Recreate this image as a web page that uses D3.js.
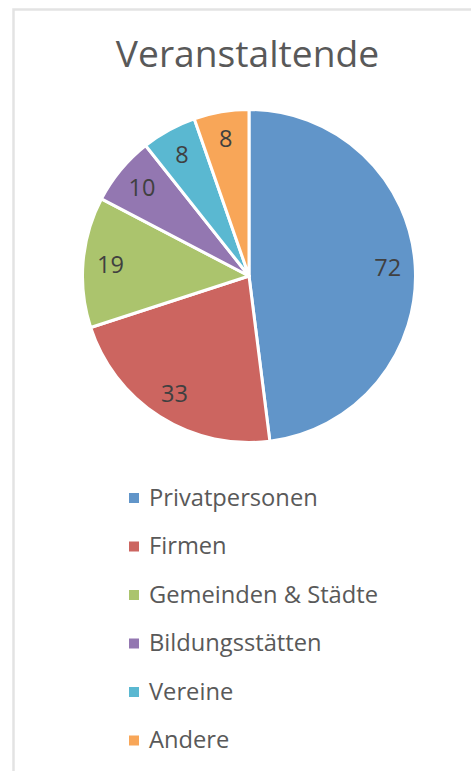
<!DOCTYPE html>
<html lang="de">
<head>
<meta charset="UTF-8">
<title>Veranstaltende</title>
<style>
  body { margin: 0; background: #fff; }
  svg { display: block; font-family: "Open Sans", sans-serif; }
</style>
</head>
<body>
<svg id="chart" width="471" height="771"></svg>
<script src="https://d3js.org/d3.v7.min.js"></script>
<script>
// chart data
const categories = ["Privatpersonen", "Firmen", "Gemeinden & Städte", "Bildungsstätten", "Vereine", "Andere"];
const values = [72, 33, 19, 10, 8, 8];
const colors = ["#6195c9", "#cc6560", "#abc46d", "#9377b1", "#5ab8d1", "#f8a658"];

const svg = d3.select("#chart");

// frame (only top and left edges are visible in the crop)
svg.append("path")
    .attr("d", "M13.5,771 V9.5 H471")
    .attr("fill", "none")
    .attr("stroke", "#e3e3e3")
    .attr("stroke-width", 2.5);

// title
svg.append("text")
    .attr("x", 247.5)
    .attr("y", 67)
    .attr("text-anchor", "middle")
    .attr("font-size", 37.2)
    .attr("fill", "#595959")
    .text("Veranstaltende");

// pie
const cx = 249, cy = 276, radius = 166.5;
const data = categories.map((c, i) => ({ name: c, value: values[i], color: colors[i] }));

const pie = d3.pie().value(d => d.value).sort(null);
const arc = d3.arc().innerRadius(0).outerRadius(radius);
const labelArc = d3.arc().innerRadius(radius * 0.835).outerRadius(radius * 0.835);

const g = svg.append("g").attr("transform", `translate(${cx},${cy})`);
const arcs = pie(data);

g.selectAll("path.slice")
    .data(arcs)
    .join("path")
    .attr("class", "slice")
    .attr("d", arc)
    .attr("fill", d => d.data.color)
    .attr("stroke", "#fff")
    .attr("stroke-width", 3)
    .attr("stroke-linejoin", "round");

g.selectAll("text.lbl")
    .data(arcs)
    .join("text")
    .attr("class", "lbl")
    .attr("transform", d => `translate(${labelArc.centroid(d)})`)
    .attr("text-anchor", "middle")
    .attr("dy", "0.36em")
    .attr("font-size", 23.5)
    .attr("fill", "#404040")
    .text(d => d.data.value);

// legend
const legend = svg.append("g").attr("transform", "translate(129,0)");
const rowY = d3.scalePoint().domain(categories).range([498, 740.5]);

const items = legend.selectAll("g.item")
    .data(data)
    .join("g")
    .attr("class", "item")
    .attr("transform", d => `translate(0,${rowY(d.name)})`);

items.append("rect")
    .attr("x", 0)
    .attr("y", -5)
    .attr("width", 10)
    .attr("height", 10)
    .attr("fill", d => d.color);

items.append("text")
    .attr("x", 20)
    .attr("y", 7.8)
    .attr("font-size", 23.7)
    .attr("fill", "#595959")
    .text(d => d.name);
</script>
</body>
</html>
